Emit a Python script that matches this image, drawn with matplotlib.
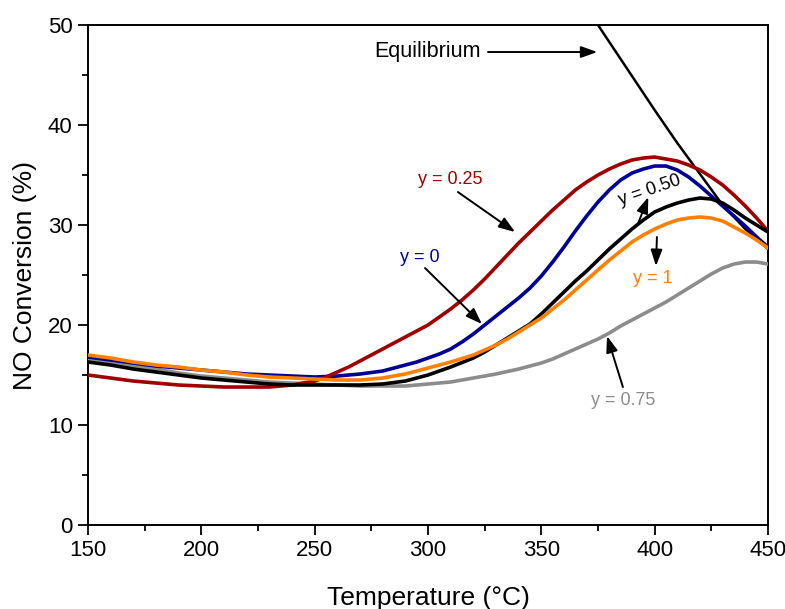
import matplotlib
matplotlib.use("Agg")
import matplotlib.pyplot as plt
from matplotlib.ticker import MultipleLocator

plt.rcParams['font.family'] = ['Liberation Sans', 'DejaVu Sans']

temps = list(range(150, 455, 5))

conv_y025 = [15.0, 14.85, 14.7, 14.55, 14.4, 14.3, 14.2, 14.1, 14.0, 13.95,
             13.9, 13.85, 13.8, 13.8, 13.8, 13.8, 13.8, 13.9, 14.0, 14.2,
             14.4, 14.8, 15.3, 15.8, 16.4, 17.0, 17.6, 18.2, 18.8, 19.4,
             20.0, 20.8, 21.6, 22.5, 23.5, 24.6, 25.8, 27.0, 28.2, 29.3,
             30.4, 31.5, 32.5, 33.5, 34.3, 35.0, 35.6, 36.1, 36.5, 36.7,
             36.8, 36.6, 36.4, 36.0, 35.5, 34.8, 34.0, 33.0, 31.9, 30.7, 29.4]
conv_y0 = [16.8, 16.65, 16.5, 16.35, 16.2, 16.05, 15.9, 15.8, 15.7, 15.6,
           15.5, 15.4, 15.3, 15.2, 15.1, 15.05, 15.0, 14.95, 14.9, 14.85,
           14.8, 14.85, 14.9, 15.0, 15.1, 15.25, 15.4, 15.7, 16.0, 16.3,
           16.7, 17.1, 17.6, 18.3, 19.1, 20.0, 20.9, 21.8, 22.7, 23.7,
           24.9, 26.3, 27.8, 29.4, 30.9, 32.3, 33.5, 34.5, 35.2, 35.6,
           35.9, 35.9, 35.5, 34.8, 33.9, 32.9, 31.9, 30.9, 29.9, 28.8, 27.8]
conv_y1 = [17.0, 16.85, 16.7, 16.5, 16.3, 16.15, 16.0, 15.9, 15.8, 15.65,
           15.5, 15.4, 15.3, 15.15, 15.0, 14.9, 14.8, 14.75, 14.7, 14.65,
           14.6, 14.55, 14.5, 14.5, 14.5, 14.6, 14.7, 14.9, 15.1, 15.4,
           15.7, 16.0, 16.3, 16.65, 17.0, 17.5, 18.0, 18.6, 19.3, 20.0,
           20.7, 21.6, 22.5, 23.5, 24.5, 25.5, 26.5, 27.4, 28.3, 29.0,
           29.6, 30.1, 30.5, 30.7, 30.8, 30.7, 30.4, 29.8, 29.2, 28.5, 27.7]
conv_y050 = [16.3, 16.15, 16.0, 15.8, 15.6, 15.45, 15.3, 15.15, 15.0, 14.85,
             14.7, 14.6, 14.5, 14.4, 14.3, 14.2, 14.1, 14.05, 14.0, 14.0,
             14.0, 14.0, 14.0, 14.0, 14.0, 14.05, 14.1, 14.25, 14.4, 14.7,
             15.0, 15.4, 15.8, 16.25, 16.7, 17.3, 18.0, 18.7, 19.4, 20.1,
             21.1, 22.2, 23.3, 24.4, 25.4, 26.5, 27.6, 28.6, 29.6, 30.5,
             31.3, 31.8, 32.2, 32.5, 32.7, 32.6, 32.2, 31.5, 30.7, 30.0, 29.3]
conv_y075 = [16.6, 16.4, 16.2, 16.05, 15.9, 15.75, 15.6, 15.4, 15.2, 15.05,
             14.9, 14.8, 14.7, 14.6, 14.5, 14.4, 14.3, 14.25, 14.2, 14.15,
             14.1, 14.05, 14.0, 13.95, 13.9, 13.9, 13.9, 13.9, 13.9, 14.0,
             14.1, 14.2, 14.3, 14.5, 14.7, 14.9, 15.1, 15.35, 15.6, 15.9,
             16.2, 16.6, 17.1, 17.6, 18.1, 18.6, 19.2, 19.9, 20.5, 21.1,
             21.7, 22.3, 23.0, 23.7, 24.4, 25.1, 25.7, 26.1, 26.3, 26.3, 26.1]

eq_temps = [370, 380, 390, 400, 410, 420, 430, 440, 450]
eq_conv = [51.7, 48.3, 44.9, 41.5, 38.2, 35.1, 32.0, 29.6, 27.6]

c_red = '#a00000'
c_blue = '#000096'
c_black = '#000000'
c_orange = '#ff8000'
c_gray = '#8c8c8c'

fig = plt.figure(figsize=(7.85, 6.09), dpi=100)
ax = fig.add_axes([0.1121, 0.1379, 0.8662, 0.8210])

lw = 2.6
ax.plot(eq_temps, eq_conv, color='black', lw=1.8, zorder=2)
ax.plot(temps, conv_y075, color=c_gray, lw=lw, zorder=3)
ax.plot(temps, conv_y0, color=c_blue, lw=lw, zorder=3)
ax.plot(temps, conv_y050, color=c_black, lw=lw, zorder=4)
ax.plot(temps, conv_y1, color=c_orange, lw=lw, zorder=5)
ax.plot(temps, conv_y025, color=c_red, lw=lw, zorder=3)

ax.set_xlim(150, 450)
ax.set_ylim(0, 50)
ax.xaxis.set_major_locator(MultipleLocator(50))
ax.xaxis.set_minor_locator(MultipleLocator(25))
ax.yaxis.set_major_locator(MultipleLocator(10))
ax.yaxis.set_minor_locator(MultipleLocator(5))
ax.tick_params(which='major', direction='out', length=7, width=1.3, labelsize=16, pad=4)
ax.tick_params(which='minor', direction='out', length=4, width=1.3)
ax.tick_params(top=False, right=False, which='both')
for s in ax.spines.values():
    s.set_linewidth(1.4)

ax.set_xlabel('Temperature (°C)', fontsize=19, labelpad=18)
ax.set_ylabel('NO Conversion (%)', fontsize=19, labelpad=8)

aprops = dict(arrowstyle='-|>,head_length=0.7,head_width=0.25', color='black', lw=1.4,
              shrinkA=0, shrinkB=0, mutation_scale=14)

ax.text(299.6, 47.4, 'Equilibrium', fontsize=15.5, ha='center', va='center')
ax.annotate('', xy=(374.7, 47.3), xytext=(326.5, 47.3), arrowprops=aprops)

ax.text(309.7, 34.6, 'y = 0.25', fontsize=13, color=c_red, ha='center', va='center')
ax.annotate('', xy=(338.4, 29.3), xytext=(313.2, 33.3), arrowprops=aprops)

ax.text(296.5, 26.8, 'y = 0', fontsize=13, color=c_blue, ha='center', va='center')
ax.annotate('', xy=(323.8, 20.1), xytext=(298.7, 25.7), arrowprops=aprops)

ax.text(398.0, 33.5, 'y = 0.50', fontsize=13, color='black', ha='center', va='center', rotation=19)
ax.annotate('', xy=(397.2, 32.8), xytext=(392.8, 30.2), arrowprops=aprops)

ax.text(399.3, 24.7, 'y = 1', fontsize=13, color=c_orange, ha='center', va='center')
ax.annotate('', xy=(400.6, 25.9), xytext=(401.0, 28.8), arrowprops=aprops)

ax.text(386.0, 12.5, 'y = 0.75', fontsize=13, color=c_gray, ha='center', va='center')
ax.annotate('', xy=(379.0, 18.9), xytext=(386.0, 13.8), arrowprops=aprops)

fig.savefig('out.png', dpi=100)
